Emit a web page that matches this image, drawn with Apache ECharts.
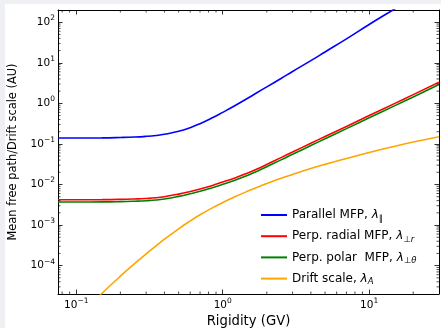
<!DOCTYPE html>
<html>
<head>
<meta charset="utf-8">
<script src="https://cdn.jsdelivr.net/npm/echarts@6/dist/echarts.min.js"></script>
<style>
  html, body { margin: 0; padding: 0; background: #eef0f3; }
  #main { position: absolute; left: 5px; top: 4px; width: 436px; height: 324px; background: #fff; }
</style>
</head>
<body>
<div id="main"></div>
<script>
// rigidity (GV) and the four curves
var rigidity    = [0.075, 0.1, 0.15, 0.2, 0.25, 0.3, 0.35, 0.4, 0.5, 0.6, 0.7, 0.85, 1, 1.2, 1.5, 1.7, 2, 2.5, 3, 4, 5, 7, 10, 15, 20, 30];
var parallelMfp = [0.14, 0.14, 0.141, 0.144, 0.148, 0.154, 0.162, 0.173, 0.205, 0.252, 0.315, 0.44, 0.6, 0.86, 1.37, 1.8, 2.55, 4.1, 6.1, 11.3, 18.5, 39, 88, 215, 410, 1000];
var radialMfp   = [0.0042, 0.0042, 0.00423, 0.0043, 0.0044, 0.00452, 0.0047, 0.0050, 0.0058, 0.0067, 0.0077, 0.0095, 0.0115, 0.0143, 0.0195, 0.0237, 0.031, 0.046, 0.063, 0.104, 0.152, 0.27, 0.50, 1.0, 1.64, 3.3];
var polarMfp    = [0.0037, 0.0037, 0.00372, 0.00378, 0.00387, 0.00398, 0.00414, 0.0044, 0.0051, 0.0059, 0.00678, 0.00836, 0.0101, 0.0126, 0.0172, 0.0209, 0.0273, 0.0405, 0.0554, 0.0915, 0.134, 0.238, 0.44, 0.88, 1.44, 2.9];
var driftScale  = [null, 5e-6, 2.09e-5, 5.5e-5, 1.12e-4, 1.96e-4, 3.06e-4, 4.48e-4, 8.1e-4, 1.265e-3, 1.79e-3, 2.66e-3, 3.6e-3, 4.9e-3, 6.98e-3, 8.4e-3, 0.01054, 0.01416, 0.01774, 0.0247, 0.0313, 0.0437, 0.0614, 0.0877, 0.111, 0.151];

var seriesNames = ['Parallel MFP', 'Perp. radial MFP', 'Perp. polar  MFP', 'Drift scale'];
var seriesColors = ['#0000ff', '#ff0000', '#008000', '#ffa500'];
var legendLabels = [
  '{t|Parallel MFP, }{m|λ}{s|∥}',
  '{t|Perp. radial MFP, }{m|λ}{s|⊥}{si|r}',
  '{t|Perp. polar  MFP, }{m|λ}{s|⊥}{si|θ}',
  '{t|Drift scale, }{m|λ}{si|A}'
];

var X_MIN = 0.075, X_MAX = 30;
var Y_MIN = 2e-5, Y_MAX = 200;
var FONT = 'DejaVu Sans';

// matplotlib style minor ticks (2..9 in each decade)
var xMinorTicks = [];
var yMinorTicks = [];
for (var d = -2; d <= 2; d++) {
  for (var m = 2; m <= 9; m++) {
    var v = m * Math.pow(10, d);
    if (v > X_MIN && v < X_MAX) xMinorTicks.push([v, Y_MIN]);
  }
}
for (var d2 = -5; d2 <= 2; d2++) {
  for (var m2 = 2; m2 <= 9; m2++) {
    var w = m2 * Math.pow(10, d2);
    if (w > Y_MIN * 1.01 && w < Y_MAX * 0.99) yMinorTicks.push([X_MIN, w]);
  }
}

function pairs(ys) {
  return rigidity.map(function (r, i) { return [r, ys[i]]; });
}

function powLabel(v) {
  var lg = Math.log10(v);
  var e = Math.round(lg);
  if (Math.abs(lg - e) > 1e-6) return '';
  return '{b|10}{e|' + String(e).replace('-', '\u2212') + '}';
}

var tickRich = {
  b: { fontFamily: FONT, fontSize: 10.5, color: '#000', lineHeight: 16 },
  e: { fontFamily: FONT, fontSize: 7.5, color: '#000', lineHeight: 7, verticalAlign: 'top' }
};

function axisBase(extra) {
  var a = {
    type: 'log',
    logBase: 10,
    axisLine: { show: true, onZero: false, lineStyle: { color: '#000', width: 1 } },
    axisTick: { show: true, inside: true, length: 4.5, lineStyle: { color: '#000', width: 0.8 } },
    splitLine: { show: false },
    minorTick: { show: false },
    axisLabel: {
      show: true, margin: 3, showMinLabel: false, showMaxLabel: false,
      formatter: powLabel, rich: tickRich
    }
  };
  for (var k in extra) a[k] = extra[k];
  return a;
}

var MINOR_LEN = 2.5;
function minorLine(x1, y1, x2, y2) {
  return { type: 'line', shape: { x1: x1, y1: y1, x2: x2, y2: y2 },
           style: { stroke: '#000', lineWidth: 0.7 } };
}

var myChart = echarts.init(document.getElementById('main'));

var lineSeries = [parallelMfp, radialMfp, polarMfp, driftScale].map(function (ys, i) {
  return {
    name: seriesNames[i],
    type: 'line',
    data: pairs(ys),
    symbol: 'none',
    smooth: 0.5,
    lineStyle: { color: seriesColors[i], width: 1.6 },
    itemStyle: { color: seriesColors[i] },
    z: 3 + i
  };
});

var option = {
  animation: false,
  grid: { left: 53, top: 6, right: 2, bottom: 34, containLabel: false, outerBoundsMode: 'none' },
  xAxis: [
    axisBase({
      min: X_MIN, max: X_MAX, position: 'bottom',
      name: 'Rigidity (GV)', nameLocation: 'middle', nameGap: 18,
      nameTextStyle: { fontFamily: FONT, fontSize: 13.2, color: '#000' }
    }),
    axisBase({ min: X_MIN, max: X_MAX, position: 'top', axisLabel: { show: false } })
  ],
  yAxis: [
    axisBase({
      min: Y_MIN, max: Y_MAX, position: 'left',
      name: 'Mean free path/Drift scale (AU)', nameLocation: 'middle', nameGap: 39,
      nameTextStyle: { fontFamily: FONT, fontSize: 11.4, color: '#000' }
    }),
    axisBase({ min: Y_MIN, max: Y_MAX, position: 'right', axisLabel: { show: false } })
  ],
  legend: {
    data: seriesNames,
    orient: 'vertical',
    left: 256,
    top: 205,
    padding: 0,
    icon: 'rect',
    itemWidth: 26,
    itemHeight: 2,
    itemGap: 7.2,
    formatter: function (name) { return legendLabels[seriesNames.indexOf(name)]; },
    textStyle: {
      color: '#000',
      rich: {
        t: { fontFamily: FONT, fontSize: 12, color: '#000', lineHeight: 16 },
        m: { fontFamily: FONT, fontSize: 12, color: '#000', fontStyle: 'italic', lineHeight: 16 },
        s: { fontFamily: FONT, fontSize: 8.5, color: '#000', lineHeight: 10, verticalAlign: 'bottom' },
        si: { fontFamily: FONT, fontSize: 8.5, color: '#000', fontStyle: 'italic', lineHeight: 10, verticalAlign: 'bottom' }
      }
    }
  },
  series: lineSeries.concat([
    {
      type: 'custom',
      silent: true,
      data: xMinorTicks,
      renderItem: function (params, api) {
        var lo = api.coord([api.value(0), Y_MIN]);
        var hi = api.coord([api.value(0), Y_MAX]);
        return { type: 'group', children: [
          minorLine(lo[0], lo[1], lo[0], lo[1] - MINOR_LEN),
          minorLine(hi[0], hi[1], hi[0], hi[1] + MINOR_LEN)
        ] };
      },
      z: 10
    },
    {
      type: 'custom',
      silent: true,
      data: yMinorTicks,
      renderItem: function (params, api) {
        var lo = api.coord([X_MIN, api.value(1)]);
        var hi = api.coord([X_MAX, api.value(1)]);
        return { type: 'group', children: [
          minorLine(lo[0], lo[1], lo[0] + MINOR_LEN, lo[1]),
          minorLine(hi[0], hi[1], hi[0] - MINOR_LEN, hi[1])
        ] };
      },
      z: 10
    }
  ])
};

option && myChart.setOption(option);
</script>
</body>
</html>
